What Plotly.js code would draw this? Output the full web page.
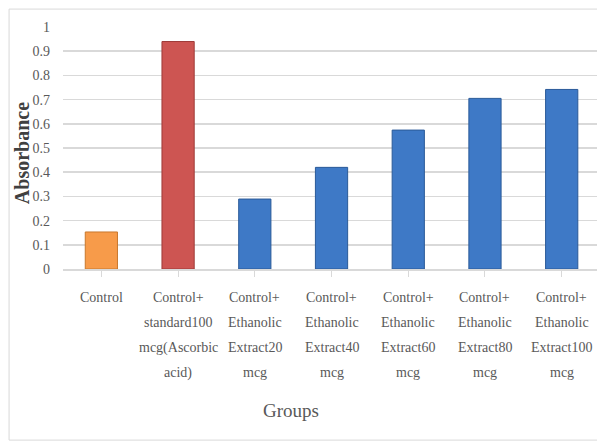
<!DOCTYPE html>
<html><head><meta charset="utf-8">
<script src="https://cdn.plot.ly/plotly-3.0.1.min.js"></script>
<style>body{margin:0;padding:0;background:#fff}#chart{width:597px;height:441px}</style>
</head><body><div id="chart"></div>
<script>
var categories = [
  ["Control"],
  ["Control+","standard100","mcg(Ascorbic","acid)"],
  ["Control+","Ethanolic","Extract20","mcg"],
  ["Control+","Ethanolic","Extract40","mcg"],
  ["Control+","Ethanolic","Extract60","mcg"],
  ["Control+","Ethanolic","Extract80","mcg"],
  ["Control+","Ethanolic","Extract100","mcg"]
];
var values = [0.153, 0.94, 0.289, 0.42, 0.574, 0.705, 0.742];
var barColors = ["#F79B4A","#CD5552","#3E79C6","#3E79C6","#3E79C6","#3E79C6","#3E79C6"];
var lineColors = ["#C8782E","#9E3A38","#2A5A98","#2A5A98","#2A5A98","#2A5A98","#2A5A98"];
var yTicks = [0,0.1,0.2,0.3,0.4,0.5,0.6,0.7,0.8,0.9,1];
var yTickText = ["0","0.1","0.2","0.3","0.4","0.5","0.6","0.7","0.8","0.9","1"];
var serif = "'Liberation Serif', 'Times New Roman', 'DejaVu Serif', serif";

var idx = categories.map(function(c,i){return i;});
var trace = {
  type: "bar",
  x: idx,
  y: values,
  width: 0.42,
  marker: {color: barColors, line: {color: lineColors, width: 1}},
  hoverinfo: "none"
};
var annotations = [];
categories.forEach(function(lines, i){
  lines.forEach(function(t, k){
    annotations.push({x: i, xref: "x", y: 0, yref: "paper", text: t, showarrow: false,
      xanchor: "center", yanchor: "middle", yshift: -(28 + 25.3*k),
      font: {family: serif, size: 14, color: "#595959"}});
  });
});
annotations.push({x: 0.427, xref: "paper", y: 0, yref: "paper", text: "Groups", showarrow: false,
  xanchor: "center", yanchor: "middle", yshift: -141, font: {family: serif, size: 19, color: "#595959"}});
annotations.push({x: -0.078, xref: "paper", y: 0.48, yref: "paper", text: "<b>Absorbance</b>", showarrow: false,
  textangle: -90, xanchor: "center", yanchor: "middle", font: {family: serif, size: 20, color: "#404040"}});

var layout = {
  width: 597, height: 441,
  margin: {l: 63, r: 0, t: 27, b: 172},
  paper_bgcolor: "#fff", plot_bgcolor: "#fff",
  showlegend: false,
  font: {family: serif, color: "#595959"},
  xaxis: {
    tickmode: "array",
    tickvals: idx,
    ticktext: idx.map(function(){return "";}),
    range: [-0.5, 6.46],
    tickson: "boundaries",
    ticks: "outside", ticklen: 6, tickcolor: "#D9D9D9", tickwidth: 1,
    showline: true, linecolor: "#D9D9D9", linewidth: 1.5,
    showgrid: false, zeroline: false,
    automargin: false
  },
  yaxis: {
    range: [0, 1],
    tickmode: "array", tickvals: yTicks, ticktext: yTickText,
    showgrid: true, gridcolor: "#D9D9D9", gridwidth: 1.5,
    zeroline: false, showline: false, ticks: "",
    ticklabelstandoff: 12,
    tickfont: {family: serif, size: 14, color: "#595959"},
    automargin: false
  },
  annotations: annotations,
  shapes: [{
    type: "rect", xref: "paper", yref: "paper",
    x0: -0.101, x1: 1.1, y0: -0.707, y1: 1.074,
    line: {color: "#D9D9D9", width: 1}, layer: "below"
  }]
};
Plotly.newPlot("chart", [trace], layout, {staticPlot: true, displayModeBar: false});
</script></body></html>
